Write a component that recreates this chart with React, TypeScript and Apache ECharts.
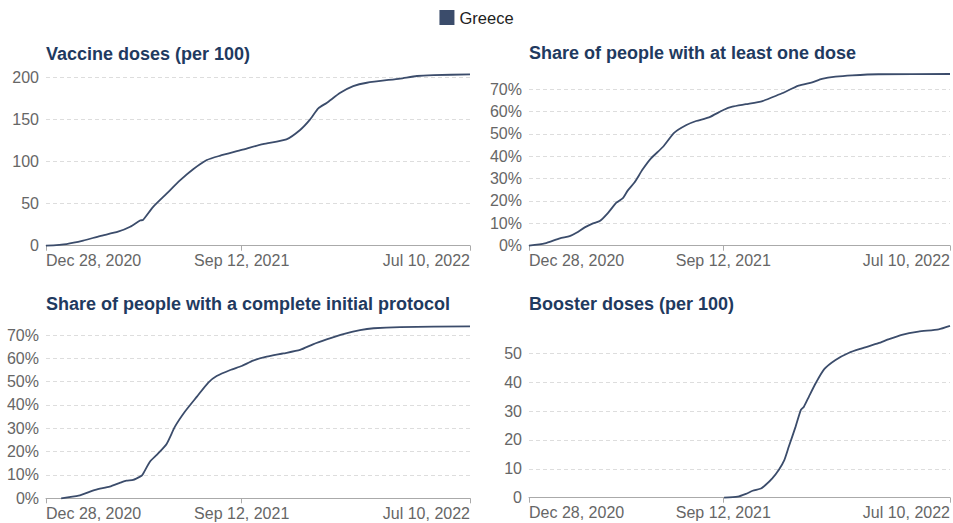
import React, { useEffect, useRef } from "react";
import * as echarts from "echarts";

// x values are days since Dec 28, 2020
const tickDays = [0, 258, 559];
const tickLabels = ["Dec 28, 2020", "Sep 12, 2021", "Jul 10, 2022"];

const titles = [
  "Vaccine doses (per 100)",
  "Share of people with at least one dose",
  "Share of people with a complete initial protocol",
  "Booster doses (per 100)",
];

const dosesDays = [0, 27, 49, 71, 95, 111, 124, 128, 141, 159, 177, 194, 212, 229, 258, 286, 317, 335, 348, 359, 370, 388, 405, 423, 467, 489, 511, 559];
const dosesVals = [0, 2, 6, 11.5, 16.7, 22.6, 30, 30.8, 46, 62, 78, 91, 102, 107, 114, 121, 126.6, 137.7, 150, 163.5, 170, 182, 190, 194, 199, 202, 203, 204];

const oneDoseDays = [0, 21, 41, 54, 63, 74, 85, 94, 105, 116, 125, 131, 140, 151, 162, 178, 193, 209, 222, 239, 258, 270, 288, 310, 323, 336, 358, 376, 389, 407, 429, 464, 559];
const oneDoseVals = [0, 1.0, 3.3, 4.3, 5.8, 8.2, 10, 11, 14.7, 19.2, 21.4, 24.6, 28.2, 34.1, 39, 44.2, 50.5, 53.9, 55.7, 57.3, 60.6, 62.1, 63.2, 64.6, 66.3, 68.1, 71.5, 73, 74.5, 75.5, 76.1, 76.6, 76.7];

const fullDays = [20, 43, 65, 84, 98, 106, 115, 124, 127, 137, 146, 159, 170, 183, 199, 214, 225, 243, 258, 273, 291, 313, 335, 352, 370, 392, 414, 432, 467, 559];
const fullVals = [0, 1.1, 3.6, 5, 6.7, 7.6, 7.9, 9.3, 10, 15.7, 18.6, 23.3, 30.7, 37.1, 43.6, 49.6, 52.4, 55, 56.7, 59, 60.7, 62.1, 63.6, 66, 68.1, 70.4, 72.1, 72.9, 73.4, 73.7];

const boosterDays = [259, 277, 288, 297, 308, 314, 323, 332, 339, 345, 354, 361, 365, 372, 381, 392, 407, 425, 442, 464, 477, 495, 517, 544, 559];
const boosterVals = [0, 0.35, 1.3, 2.4, 3.2, 4.4, 6.7, 9.8, 13, 17.7, 24.6, 30.4, 31.5, 35.2, 39.8, 44.5, 47.7, 50.2, 51.7, 53.5, 54.8, 56.4, 57.5, 58.3, 59.5];

const LINE = "#3b4c6b";
const TITLE = "#1f3a60";
const LABEL = "#666666";
const FONT = "Liberation Sans, Arial, sans-serif";

const toSeries = (days: number[], vals: number[]) => days.map((d, i) => [d, vals[i]]);

export default function App() {
  const ref = useRef<HTMLDivElement>(null);
  useEffect(() => {
    if (!ref.current) return;
    const chart = echarts.init(ref.current, null, { renderer: "svg" });
    const grids = [
      { left: 46, right: 483, top: 77.7, bottom: 277.3 },
      { left: 529, right: 1.3, top: 89, bottom: 277.3 },
      { left: 46, right: 483, top: 335, bottom: 24.7 },
      { left: 529, right: 1.3, top: 353.3, bottom: 25.3 },
    ];
    const yCfg = [
      { max: 200, interval: 50, pct: false },
      { max: 70, interval: 10, pct: true },
      { max: 70, interval: 10, pct: true },
      { max: 50, interval: 10, pct: false },
    ];
    const data = [
      toSeries(dosesDays, dosesVals),
      toSeries(oneDoseDays, oneDoseVals),
      toSeries(fullDays, fullVals),
      toSeries(boosterDays, boosterVals),
    ];
    const titlePos = [
      { left: 46, top: 45 },
      { left: 529, top: 44 },
      { left: 46, top: 295 },
      { left: 529, top: 295 },
    ];
    const option: any = {
      animation: false,
      legend: {
        data: ["Greece"],
        top: 4,
        left: "center",
        icon: "rect",
        itemWidth: 15,
        itemHeight: 15,
        itemGap: 6,
        textStyle: { fontSize: 16.5, color: "#222", fontFamily: FONT },
      },
      title: titles.map((t, i) => ({
        text: t,
        left: titlePos[i].left,
        top: titlePos[i].top,
        padding: 0,
        textStyle: { fontSize: 18, fontWeight: "bold", color: TITLE, fontFamily: FONT },
      })),
      grid: grids,
      xAxis: grids.map((_, i) => ({
        type: "value",
        gridIndex: i,
        min: tickDays[0],
        max: tickDays[tickDays.length - 1],
        axisLine: { show: true, onZero: false, lineStyle: { color: "#aaaaaa", width: 1 } },
        axisTick: { show: true, customValues: tickDays, length: 5, lineStyle: { color: "#aaaaaa" } },
        splitLine: { show: false },
        axisLabel: {
          customValues: tickDays,
          formatter: (v: number) => {
            const idx = tickDays.indexOf(Math.round(v));
            return idx >= 0 ? tickLabels[idx] : "";
          },
          alignMinLabel: "left",
          alignMaxLabel: "right",
          color: LABEL,
          fontSize: 16,
          fontFamily: FONT,
          margin: 7,
        },
      })),
      yAxis: yCfg.map((c, i) => ({
        type: "value",
        gridIndex: i,
        min: 0,
        max: c.max,
        interval: c.interval,
        axisLine: { show: false },
        axisTick: { show: false },
        splitLine: { show: true, lineStyle: { color: "#dddddd", type: [4, 3], width: 1 } },
        axisLabel: {
          color: LABEL,
          fontSize: 16,
          fontFamily: FONT,
          margin: 7,
          formatter: c.pct ? "{value}%" : "{value}",
        },
      })),
      series: data.map((d, i) => ({
        name: "Greece",
        type: "line",
        xAxisIndex: i,
        yAxisIndex: i,
        data: d,
        showSymbol: false,
        symbol: "none",
        clip: false,
        smooth: 0.2,
        color: LINE,
        lineStyle: { color: LINE, width: 1.8 },
      })),
    };
    chart.setOption(option);
    return () => chart.dispose();
  }, []);
  return (
    <div
      ref={ref}
      style={{ position: "fixed", left: 0, top: 0, width: 953, height: 523, background: "#fff" }}
    />
  );
}
